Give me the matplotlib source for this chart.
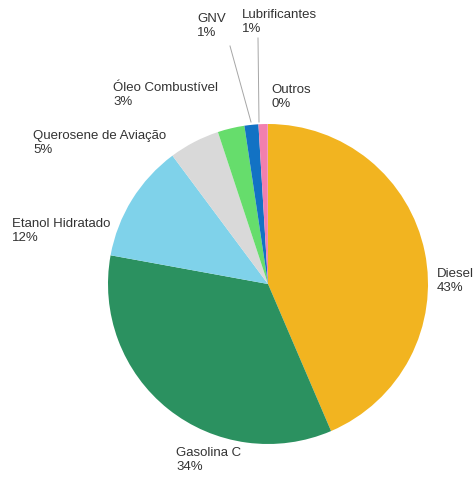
import matplotlib.pyplot as plt

# participação por combustível (%)
labels = ['Diesel', 'Gasolina C', 'Etanol Hidratado', 'Querosene de Aviação',
          'Óleo Combustível', 'GNV', 'Lubrificantes', 'Outros']
values = [43.4, 34.2, 11.9, 5.1, 2.7, 1.4, 0.9, 0.05]
pct_labels = ['43%', '34%', '12%', '5%', '3%', '1%', '1%', '0%']
colors = ['#F2B420', '#2B9160', '#7FD2EA', '#D9D9D9', '#66DD6C', '#1272C4', '#F27FAE', '#F27FAE']

W, H = 476, 479
cx, cy, r = 268, 284, 160

fig = plt.figure(figsize=(W / 100, H / 100), dpi=100)
ax = fig.add_axes([(cx - r) / W, (H - cy - r) / H, 2 * r / W, 2 * r / H])
ax.pie(values, colors=colors, startangle=90, counterclock=False,
       wedgeprops=dict(linewidth=0))
ax.set_xlim(-1, 1)
ax.set_ylim(-1, 1)
ax.set_aspect('equal')
ax.axis('off')


def px(x, y):
    return (x - cx) / r, (cy - y) / r


# posições dos rótulos (pixels da imagem, canto esquerdo, centro vertical)
label_pos = [(437, 281), (176, 460), (12, 231), (33, 143),
             (113, 95), (197, 26), (242, 22), (271, 97)]

for name, pct, (x, y) in zip(labels, pct_labels, label_pos):
    tx, ty = px(x, y)
    ax.text(tx, ty, name + '\n' + pct, ha='left', va='center', fontsize=9.5,
            family='Liberation Sans', color='#333333', linespacing=1.3,
            clip_on=False)

# linhas de chamada
for (x0, y0), (x1, y1) in [((230, 46), (251, 122)), ((258, 38), (259, 122))]:
    a, b = px(x0, y0)
    c, d = px(x1, y1)
    ax.plot([a, c], [b, d], color='#A6A6A6', linewidth=0.7, clip_on=False)

plt.savefig('out.png', dpi=100)
